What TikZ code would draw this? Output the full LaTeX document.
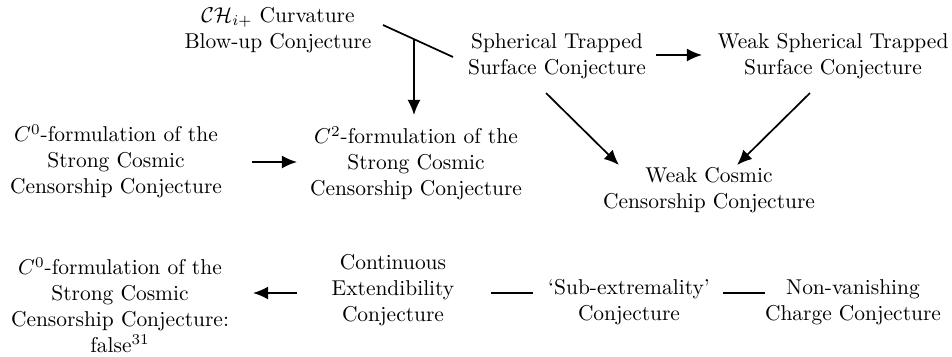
\documentclass[tikz,border=0pt]{standalone}
\usetikzlibrary{arrows.meta,calc}
\begin{document}
\begin{tikzpicture}[x=0.466pt,y=-0.466pt,
  box/.style={align=center,inner sep=0pt,font=\fontsize{10}{12}\selectfont},
  conn/.style={line width=0.8pt},
  arr/.style={conn,-{Latex[length=7pt,width=6pt]}}]
\useasboundingbox (0,0) rectangle (952,356);
\node[box] (ch) at (278,30) {$\mathcal{CH}_{i+}$ Curvature\\Blow-up Conjecture};
\node[box] (sts) at (557,56) {Spherical Trapped\\Surface Conjecture};
\node[box] (wsts) at (833,56) {Weak Spherical Trapped\\Surface Conjecture};
\node[box] (c0) at (116,161) {$C^0$-formulation of the\\Strong Cosmic\\Censorship Conjecture};
\node[box] (c2) at (416,163) {$C^2$-formulation of the\\Strong Cosmic\\Censorship Conjecture};
\node[box] (wcc) at (709,190) {Weak Cosmic\\Censorship Conjecture};
\node[box] (c0f) at (120,305) {$C^0$-formulation of the\\Strong Cosmic\\Censorship Conjecture:\\false$^{31}$};
\node[box] (cec) at (393,290) {Continuous\\Extendibility\\Conjecture};
\node[box] (sub) at (629,302) {`Sub-extremality'\\Conjecture};
\node[box] (nvc) at (853,302) {Non-vanishing\\Charge Conjecture};
% joint hypothesis line
\coordinate (j1) at (383,25);
\coordinate (j2) at (453,57);
\coordinate (jm) at ($(j1)!0.443!(j2)$);
\coordinate (c2top) at (414,115);
\draw[conn] (j1) -- (j2);
\draw[arr] (jm) -- (c2top);
% other connectors
\coordinate (a1) at (656,55); \coordinate (a2) at (702,55);
\draw[arr] (a1) -- (a2);
\coordinate (b1) at (252,162); \coordinate (b2) at (297,162);
\draw[arr] (b1) -- (b2);
\coordinate (d1) at (546,93); \coordinate (d2) at (619,165);
\draw[arr] (d1) -- (d2);
\coordinate (e1) at (810,93); \coordinate (e2) at (737,165);
\draw[arr] (e1) -- (e2);
\coordinate (f1) at (297,293); \coordinate (f2) at (253,293);
\draw[arr] (f1) -- (f2);
\coordinate (g1) at (491,293); \coordinate (g2) at (533,293);
\draw[conn] (g1) -- (g2);
\coordinate (h1) at (723,293); \coordinate (h2) at (765,293);
\draw[conn] (h1) -- (h2);
\end{tikzpicture}
\end{document}
